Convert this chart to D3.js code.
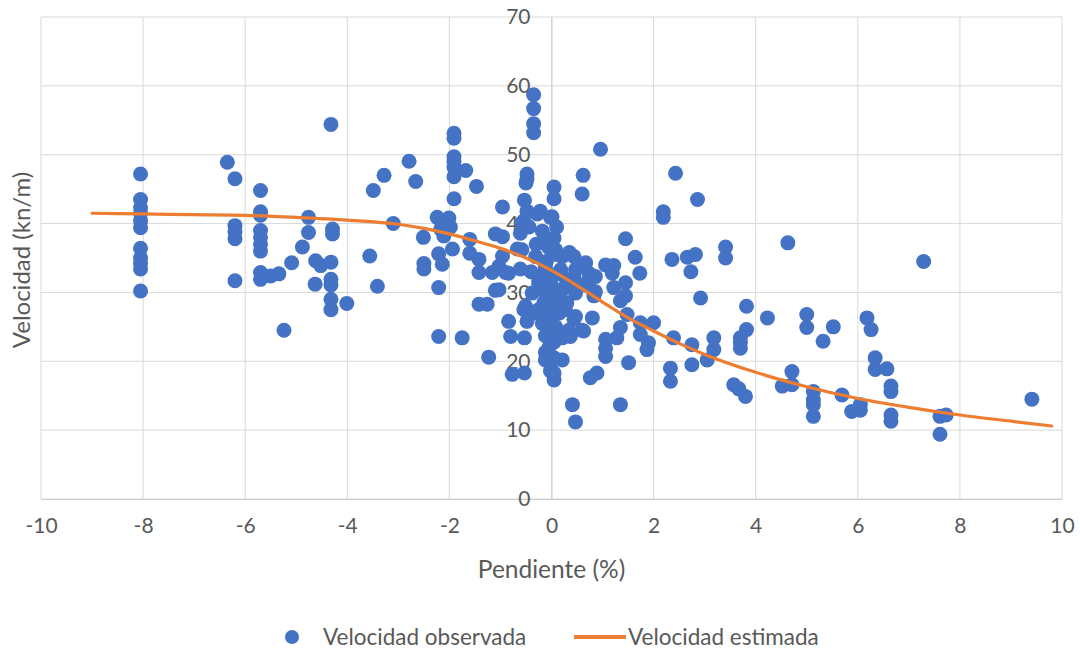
<!DOCTYPE html>
<html>
<head>
<meta charset="utf-8">
<script src="https://cdn.jsdelivr.net/npm/d3@7"></script>
<style>
  html, body { margin: 0; padding: 0; background: #ffffff; }
  svg { display: block; }
  text { font-family: Lato, "Liberation Sans", sans-serif; fill: #595959; }
</style>
</head>
<body>
<svg id="chart" width="1080" height="652"></svg>
<script>
// Observed speed vs slope: [pendiente (%), velocidad (kn/m)]
const observed = [
  [-8.05,47.2],[-8.05,43.5],[-8.05,42.3],[-8.05,41.5],[-8.05,40.4],[-8.05,39.4],[-8.05,36.4],[-8.05,35.0],[-8.05,34.2],[-8.05,33.4],[-8.05,30.2],
  [-6.35,48.9],[-6.2,46.5],[-6.2,39.7],[-6.2,38.8],[-6.2,37.8],[-6.2,31.7],
  [-5.7,44.8],[-5.7,41.7],[-5.7,41.2],[-5.7,39.0],[-5.7,38.0],[-5.7,37.0],[-5.7,36.0],[-5.7,32.9],[-5.7,31.9],
  [-5.5,32.4],[-5.34,32.7],[-5.09,34.3],[-5.24,24.5],[-4.88,36.6],
  [-4.32,54.4],[-4.76,40.9],[-4.76,38.7],[-4.62,34.6],[-4.52,33.9],[-4.32,34.4],[-4.29,39.2],[-4.29,38.5],[-4.63,31.2],
  [-4.32,31.9],[-4.32,31.1],[-4.32,29.0],[-4.32,27.5],[-4.01,28.4],
  [-3.56,35.3],[-3.41,30.9],[-3.49,44.8],[-3.28,47.0],[-3.10,40.0],[-2.79,49.05],[-2.66,46.1],
  [-2.51,38.0],[-2.50,34.2],[-2.50,33.4],
  [-2.24,40.9],[-2.17,39.2],[-2.11,38.2],[-2.21,35.6],[-2.14,34.1],[-2.21,30.7],[-2.21,23.6],
  [-1.91,53.1],[-1.91,52.4],[-1.91,49.7],[-1.91,49.0],[-1.91,48.2],[-1.91,46.8],[-1.91,43.6],
  [-2.01,40.8],[-1.98,39.5],[-1.94,36.3],[-1.68,47.7],[-1.47,45.4],[-1.6,37.7],[-1.6,35.7],[-1.75,23.4],
  [-1.42,34.8],[-1.42,32.9],[-1.16,32.9],[-1.10,30.3],[-1.42,28.3],[-1.26,28.3],[-1.23,20.6],
  [-1.10,38.5],[-0.96,38.1],[-0.96,42.4],[-0.96,35.3],[-1.03,33.8],[-1.03,30.4],[-0.84,32.8],
  [-0.67,36.3],[-0.9,32.9],[-0.61,33.4],[-0.54,27.5],[-0.84,25.8],[-0.48,25.8],[-0.80,23.6],[-0.53,23.4],[-0.77,18.1],[-0.53,18.3],
  [-0.35,58.7],[-0.35,56.7],[-0.35,54.5],[-0.35,53.2],[-0.48,47.2],[-0.48,46.5],[-0.5,45.9],
  [-0.53,43.4],[-0.28,41.4],[-0.54,40.4],[-0.44,39.5],
  [-0.48,41.8],[-0.22,41.8],[0.01,41.0],[-0.58,40.1],[-0.61,38.6],[-0.18,38.9],[0.05,37.9],[-0.18,37.2],[0.08,36.2],[-0.58,36.2],
  [0.44,35.2],[0.67,34.3],[1.06,34.0],[0.47,33.3],[0.73,32.8],[0.21,35.2],[-0.31,35.2],[-0.12,33.8],[0.18,33.3],[0.86,32.3],[1.19,32.8],
  [-0.25,31.8],[0.47,31.4],[0.73,30.9],
  [0.05,45.3],[0.05,43.6],[0.96,50.8],[0.62,47.0],[0.60,44.3],[2.43,47.3],[-0.02,40.9],
  [2.19,41.7],[2.19,40.9],[1.45,37.8],[1.64,35.1],[2.36,34.8],[1.22,33.9],
  [1.73,32.8],[1.45,31.4],[1.22,30.7],[1.35,28.8],[1.45,29.5],[0.83,29.5],[0.18,32.7],[0.44,32.2],[1.48,26.8],[0.80,26.3],[0.44,26.1],
  [0.63,24.4],[0.37,23.6],[0.21,23.4],[1.35,24.9],[1.28,23.4],[1.74,25.6],[1.74,23.9],[1.90,22.7],[1.87,21.7],[2.0,25.6],[2.39,23.4],
  [1.06,23.2],[1.06,21.9],[1.06,20.7],[1.51,19.8],[0.05,20.5],[0.21,20.2],[0.05,18.3],[0.05,17.3],[0.76,17.6],[0.89,18.3],
  [0.41,13.7],[0.47,11.2],[1.35,13.7],[2.33,19.0],[2.33,17.1],
  [-0.25,31.3],[0.01,30.9],[-0.38,29.9],[-0.12,29.9],[0.21,30.4],[0.47,29.9],[0.86,30.1],[0.60,31.1],
  [-0.51,28.0],[-0.25,27.5],[0.01,28.0],[0.27,27.5],[0.47,26.5],[-0.18,25.5],[0.08,25.0],[0.34,24.5],[0.60,24.5],
  [-0.12,23.7],[-0.05,22.0],[-0.12,21.3],[0.01,20.0],[-0.02,18.6],[-0.12,20.2],
  [-0.05,36.5],[0.1,35.5],[-0.1,34.5],[0.05,32.5],[-0.08,31.5],[0.12,29.0],[-0.15,28.5],[0.15,27.0],[-0.05,26.5],
  [0.0,24.0],[-0.2,32.5],[0.3,31.5],[0.3,28.5],[-0.35,27.0],[0.05,22.8],[0.35,35.8],[-0.4,33.0],[0.1,39.5],[-0.3,37.0],
  [2.86,43.5],[4.63,37.2],[3.41,36.6],[3.41,35.0],[2.66,35.1],[2.82,35.5],[2.73,33.0],[2.92,29.2],[3.82,28.0],[4.23,26.3],
  [5.0,26.8],[5.0,24.9],[5.52,25.0],[5.32,22.9],[6.18,26.3],[6.26,24.6],[6.34,20.5],[6.34,18.8],
  [3.82,24.6],[3.70,23.4],[3.70,22.7],[3.70,21.9],[3.18,23.4],[3.18,21.7],[3.05,20.2],[2.75,22.4],[2.75,19.5],
  [3.57,16.6],[3.67,16.0],[3.80,14.9],[4.71,18.5],[4.52,16.4],[4.71,16.6],
  [5.13,15.6],[5.13,14.4],[5.13,13.7],[5.13,12.0],[5.69,15.1],[5.88,12.7],[6.05,12.9],[6.05,13.7],
  [7.29,34.5],[6.57,18.9],[6.65,16.4],[6.65,15.6],[6.65,12.2],[6.65,11.3],[7.61,12.0],[7.73,12.2],[7.61,9.4],[9.41,14.5]
];

// Fitted (estimated) speed curve
const estimatedX = [-9, -8, -7, -6, -5, -4, -3, -2.5, -2, -1.5, -1, -0.5, 0, 0.5, 1, 1.5, 2, 2.5, 3, 4, 5, 6, 7, 8, 9, 9.8];
const estimatedY = [41.5, 41.4, 41.3, 41.2, 40.9, 40.5, 39.9, 39.3, 38.5, 37.5, 36.4, 35.0, 33.2, 31.0, 28.6, 26.3, 24.4, 22.6, 21.0, 18.4, 16.3, 14.6, 13.3, 12.2, 11.3, 10.6];

const xTicks = [-10, -8, -6, -4, -2, 0, 2, 4, 6, 8, 10];
const yTicks = [0, 10, 20, 30, 40, 50, 60, 70];

const xTitle = "Pendiente (%)";
const yTitle = "Velocidad (kn/m)";
const seriesNames = ["Velocidad observada", "Velocidad estimada"];

const blue = "#4472C4";
const orange = "#ED7D31";
const fontStack = "Lato, 'Liberation Sans', sans-serif";

const svg = d3.select("#chart");
const plot = { left: 41, right: 1062, top: 17, bottom: 499 };

const x = d3.scaleLinear().domain([-10, 10]).range([plot.left, plot.right]);
const y = d3.scaleLinear().domain([0, 70]).range([plot.bottom, plot.top]);

// Gridlines
const grid = svg.append("g");
grid.selectAll("line.v").data(xTicks).join("line")
  .attr("x1", d => x(d)).attr("x2", d => x(d))
  .attr("y1", y(0)).attr("y2", y(70))
  .attr("stroke", "#d9d9d9").attr("stroke-width", 1);
grid.selectAll("line.h").data(yTicks).join("line")
  .attr("x1", x(-10)).attr("x2", x(10))
  .attr("y1", d => y(d)).attr("y2", d => y(d))
  .attr("stroke", "#d9d9d9").attr("stroke-width", 1);

// Axes: horizontal along y = 0, vertical through x = 0 (plain hyphen for negatives)
const plainFmt = d => String(d);
const xAxis = d3.axisBottom(x).tickValues(xTicks).tickSize(0).tickPadding(19).tickFormat(plainFmt);
const gx = svg.append("g").attr("transform", `translate(0,${y(0)})`).call(xAxis);
gx.select(".domain").attr("stroke", "#cccccc");
gx.selectAll("text").style("font-size", "21px").attr("fill", "#595959").style("font-family", fontStack);

const yAxis = d3.axisLeft(y).tickValues(yTicks).tickSize(0).tickPadding(21).tickFormat(plainFmt);
const gy = svg.append("g").attr("transform", `translate(${x(0)},0)`).call(yAxis);
gy.select(".domain").attr("stroke", "#cccccc");
gy.selectAll("text").style("font-size", "21px").attr("fill", "#595959").style("font-family", fontStack);

// Observed points
svg.append("g").selectAll("circle").data(observed).join("circle")
  .attr("cx", d => x(d[0])).attr("cy", d => y(d[1]))
  .attr("r", 7.5).attr("fill", blue);

// Estimated curve
const curvePts = estimatedX.map((v, i) => [v, estimatedY[i]]);
svg.append("path").datum(curvePts)
  .attr("fill", "none").attr("stroke", orange).attr("stroke-width", 3.2)
  .attr("stroke-linecap", "round")
  .attr("d", d3.line().x(d => x(d[0])).y(d => y(d[1])).curve(d3.curveMonotoneX));

// Axis titles
svg.append("text").attr("x", x(0)).attr("y", 578).attr("text-anchor", "middle")
  .style("font-size", "24.5px").text(xTitle);
svg.append("text").attr("transform", `translate(30,${(plot.top + plot.bottom) / 2 + 2}) rotate(-90)`)
  .attr("text-anchor", "middle").style("font-size", "24px").text(yTitle);

// Legend
const legY = 637;
svg.append("circle").attr("cx", 292).attr("cy", legY).attr("r", 7).attr("fill", blue);
svg.append("text").attr("x", 323).attr("y", legY + 8).style("font-size", "22.5px").text(seriesNames[0]);
svg.append("line").attr("x1", 574).attr("x2", 626).attr("y1", legY).attr("y2", legY)
  .attr("stroke", orange).attr("stroke-width", 4);
svg.append("text").attr("x", 628).attr("y", legY + 8).style("font-size", "22.5px").text(seriesNames[1]);
</script>
</body>
</html>
